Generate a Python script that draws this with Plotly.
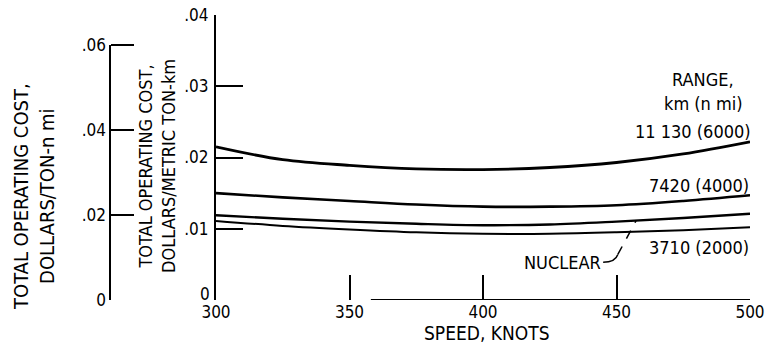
import plotly.graph_objects as go

speed = [300, 325, 350, 375, 400, 425, 450, 475, 500]
cost_6000 = [0.0215, 0.0197, 0.0189, 0.0184, 0.0183, 0.0186, 0.0193, 0.0205, 0.0222]
cost_4000 = [0.0150, 0.0144, 0.0139, 0.0134, 0.0131, 0.0131, 0.0133, 0.0139, 0.0147]
cost_nuclear = [0.0119, 0.0114, 0.0110, 0.0107, 0.0105, 0.0106, 0.0110, 0.0115, 0.0121]
cost_2000 = [0.0111, 0.0104, 0.0099, 0.0095, 0.0093, 0.0093, 0.0095, 0.0098, 0.0102]

x_ticks = [300, 350, 400, 450, 500]
x_ticktext = ["300", "350", "400", "450", "500"]
y_ticks = [0, 0.01, 0.02, 0.03, 0.04]
y_ticktext = ["", ".01", ".02", ".03", ".04"]
y2_ticks = [0, 0.02, 0.04, 0.06]
y2_ticktext = ["0", ".02", ".04", ".06"]

FONT = "DejaVu Sans Condensed, Liberation Sans Narrow, sans-serif"

fig = go.Figure()
for ys, w in [(cost_6000, 2.8), (cost_4000, 2.6), (cost_nuclear, 2.4), (cost_2000, 2.0)]:
    fig.add_trace(go.Scatter(x=speed, y=ys, mode="lines",
                             line=dict(color="black", width=w, shape="spline", smoothing=1.0),
                             showlegend=False, hoverinfo="skip"))

L, R, T, B = 10, 18, 15, 52
W = 768
plot_w = W - L - R
x0_frac = (216 - L) / plot_w
y2_pos = (110 - L) / plot_w
plot_h = 352 - T - B
y2_top = 0.06 * plot_h / (300 - 45)

fig.update_layout(
    width=768, height=352,
    margin=dict(l=L, r=R, t=T, b=B, autoexpand=False),
    paper_bgcolor="white", plot_bgcolor="white",
    font=dict(family=FONT, size=17, color="black"),
    xaxis=dict(domain=[x0_frac, 1], range=[300, 500], showgrid=False, zeroline=False,
               showline=False, tickvals=x_ticks, ticktext=x_ticktext, ticks="inside",
               ticklen=25, tickwidth=2, tickcolor="black",
               tickfont=dict(size=17, family=FONT)),
    yaxis=dict(range=[0, 0.04], showgrid=False, zeroline=False, showline=True,
               linecolor="black", linewidth=2, tickvals=y_ticks, ticktext=y_ticktext,
               ticks="inside", ticklen=27, tickwidth=2, tickcolor="black",
               ticklabelstandoff=2, tickfont=dict(size=17, family=FONT)),
    yaxis2=dict(range=[0, y2_top], overlaying="y", anchor="free", position=y2_pos,
                side="left", showgrid=False, zeroline=False, showline=False,
                tickvals=y2_ticks, ticktext=y2_ticktext, ticks="inside", ticklen=23,
                tickwidth=2, tickcolor="black", ticklabelstandoff=4,
                tickfont=dict(size=17, family=FONT)),
)

fig.add_trace(go.Scatter(x=[300], y=[0], yaxis="y2", mode="markers",
                         marker=dict(opacity=0), showlegend=False, hoverinfo="skip"))

fig.add_shape(type="line", xref="paper", yref="y2", x0=y2_pos, x1=y2_pos, y0=0, y1=0.06,
              line=dict(color="black", width=2))
fig.add_shape(type="line", xref="x", yref="y", x0=358, x1=500, y0=0, y1=0,
              line=dict(color="black", width=2))

fig.add_shape(type="path", xref="x", yref="y",
              path="M 445 0.0053 Q 449.5 0.0053 450.5 0.0064",
              line=dict(color="black", width=1.5))
fig.add_shape(type="line", xref="x", yref="y", x0=450.5, y0=0.0064, x1=457.3, y1=0.0111,
              line=dict(color="black", width=1.5, dash="dash"))

def ann(text, x, y, xanchor="center", size=18, angle=0):
    fig.add_annotation(text=text, xref="paper", yref="paper", x=x, y=y,
                       xanchor=xanchor, yanchor="middle", showarrow=False,
                       textangle=angle, font=dict(size=size, family=FONT, color="black"))

def px(xp):
    return (xp - L) / plot_w

def py(yp):
    return 1 - (yp - T) / plot_h

ann("0", px(212), py(294), xanchor="right", size=17)
ann("RANGE,", px(703), py(79))
ann("km (n mi)", px(745), py(103), xanchor="right")
ann("11 130 (6000)", px(753), py(131), xanchor="right")
ann("7420 (4000)", px(751), py(185), xanchor="right")
ann("3710 (2000)", px(751), py(247), xanchor="right")
ann("NUCLEAR", px(603), py(262), xanchor="right")
ann("SPEED, KNOTS", px(487), py(333), size=19)
ann("TOTAL OPERATING COST,<br>DOLLARS/TON-n mi", px(34), py(197), size=20, angle=-90)
ann("TOTAL OPERATING COST,<br>DOLLARS/METRIC TON-km", px(157), py(166), size=18, angle=-90)

fig.write_html("out.html")
